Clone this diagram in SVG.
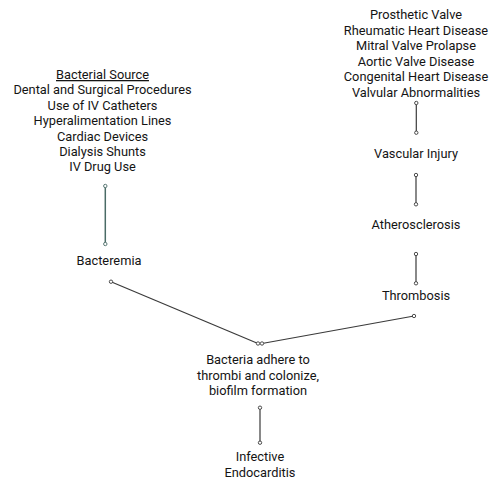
<svg xmlns="http://www.w3.org/2000/svg" width="491" height="480" viewBox="0 0 491 480">
<style>
text{font-family:Roboto,"Liberation Sans",sans-serif;font-size:12.8px;fill:#141414;text-anchor:middle}
.c{stroke:#3a3a3a;stroke-width:1.2;fill:none}
.g{stroke:#4a6b66;stroke-width:1.5;fill:none}
.d{fill:#fff;stroke:#3a3a3a;stroke-width:0.9}
.dg{fill:#fff;stroke:#4a6b66;stroke-width:0.9}
</style>
<rect width="491" height="480" fill="#fff"/>
<g id="bacterial-source">
<text x="102.5" y="79" text-decoration="underline">Bacterial Source</text>
<text x="102.5" y="94.4">Dental and Surgical Procedures</text>
<text x="102.5" y="109.8">Use of IV Catheters</text>
<text x="102.5" y="125.2">Hyperalimentation Lines</text>
<text x="102.5" y="140.6">Cardiac Devices</text>
<text x="102.5" y="156">Dialysis Shunts</text>
<text x="102.5" y="171.4">IV Drug Use</text>
</g>
<g id="bacteremia"><text x="109" y="265">Bacteremia</text></g>
<g id="valve-disease">
<text x="416" y="19">Prosthetic Valve</text>
<text x="416" y="34.5">Rheumatic Heart Disease</text>
<text x="416" y="50">Mitral Valve Prolapse</text>
<text x="416" y="65.5">Aortic Valve Disease</text>
<text x="416" y="81">Congenital Heart Disease</text>
<text x="416" y="96.5">Valvular Abnormalities</text>
</g>
<g id="vascular-injury"><text x="416" y="158">Vascular Injury</text></g>
<g id="atherosclerosis"><text x="416" y="229">Atherosclerosis</text></g>
<g id="thrombosis"><text x="416" y="300">Thrombosis</text></g>
<g id="bacteria-adhere">
<text x="258" y="364">Bacteria adhere to</text>
<text x="258" y="379.5">thrombi and colonize,</text>
<text x="258" y="395">biofilm formation</text>
</g>
<g id="infective-endocarditis">
<text x="260" y="461">Infective</text>
<text x="260" y="476.5">Endocarditis</text>
</g>
<g id="connectors">
<line class="g" x1="105.3" y1="186" x2="105.3" y2="244"/>
<circle class="dg" cx="105.3" cy="186" r="1.7"/>
<circle class="dg" cx="105.3" cy="244" r="1.7"/>
<line class="c" x1="416.3" y1="103" x2="416.3" y2="132.7"/>
<circle class="d" cx="416.3" cy="103" r="1.7"/>
<circle class="d" cx="416.3" cy="132.7" r="1.7"/>
<line class="c" x1="416" y1="175" x2="416" y2="204.3"/>
<circle class="d" cx="416" cy="175" r="1.7"/>
<circle class="d" cx="416" cy="204.3" r="1.7"/>
<line class="c" x1="416" y1="254" x2="416" y2="283.3"/>
<circle class="d" cx="416" cy="254" r="1.7"/>
<circle class="d" cx="416" cy="283.3" r="1.7"/>
<line class="c" x1="111" y1="281.7" x2="258" y2="343.5"/>
<circle class="d" cx="111" cy="281.7" r="1.7"/>
<circle class="d" cx="258" cy="343.5" r="1.7"/>
<line class="c" x1="262" y1="343.5" x2="414" y2="316"/>
<circle class="d" cx="262" cy="343.5" r="1.7"/>
<circle class="d" cx="414" cy="316" r="1.7"/>
<line class="c" x1="260" y1="407.7" x2="260" y2="442.7"/>
<circle class="d" cx="260" cy="407.7" r="1.7"/>
<circle class="d" cx="260" cy="442.7" r="1.7"/>
</g>
</svg>
